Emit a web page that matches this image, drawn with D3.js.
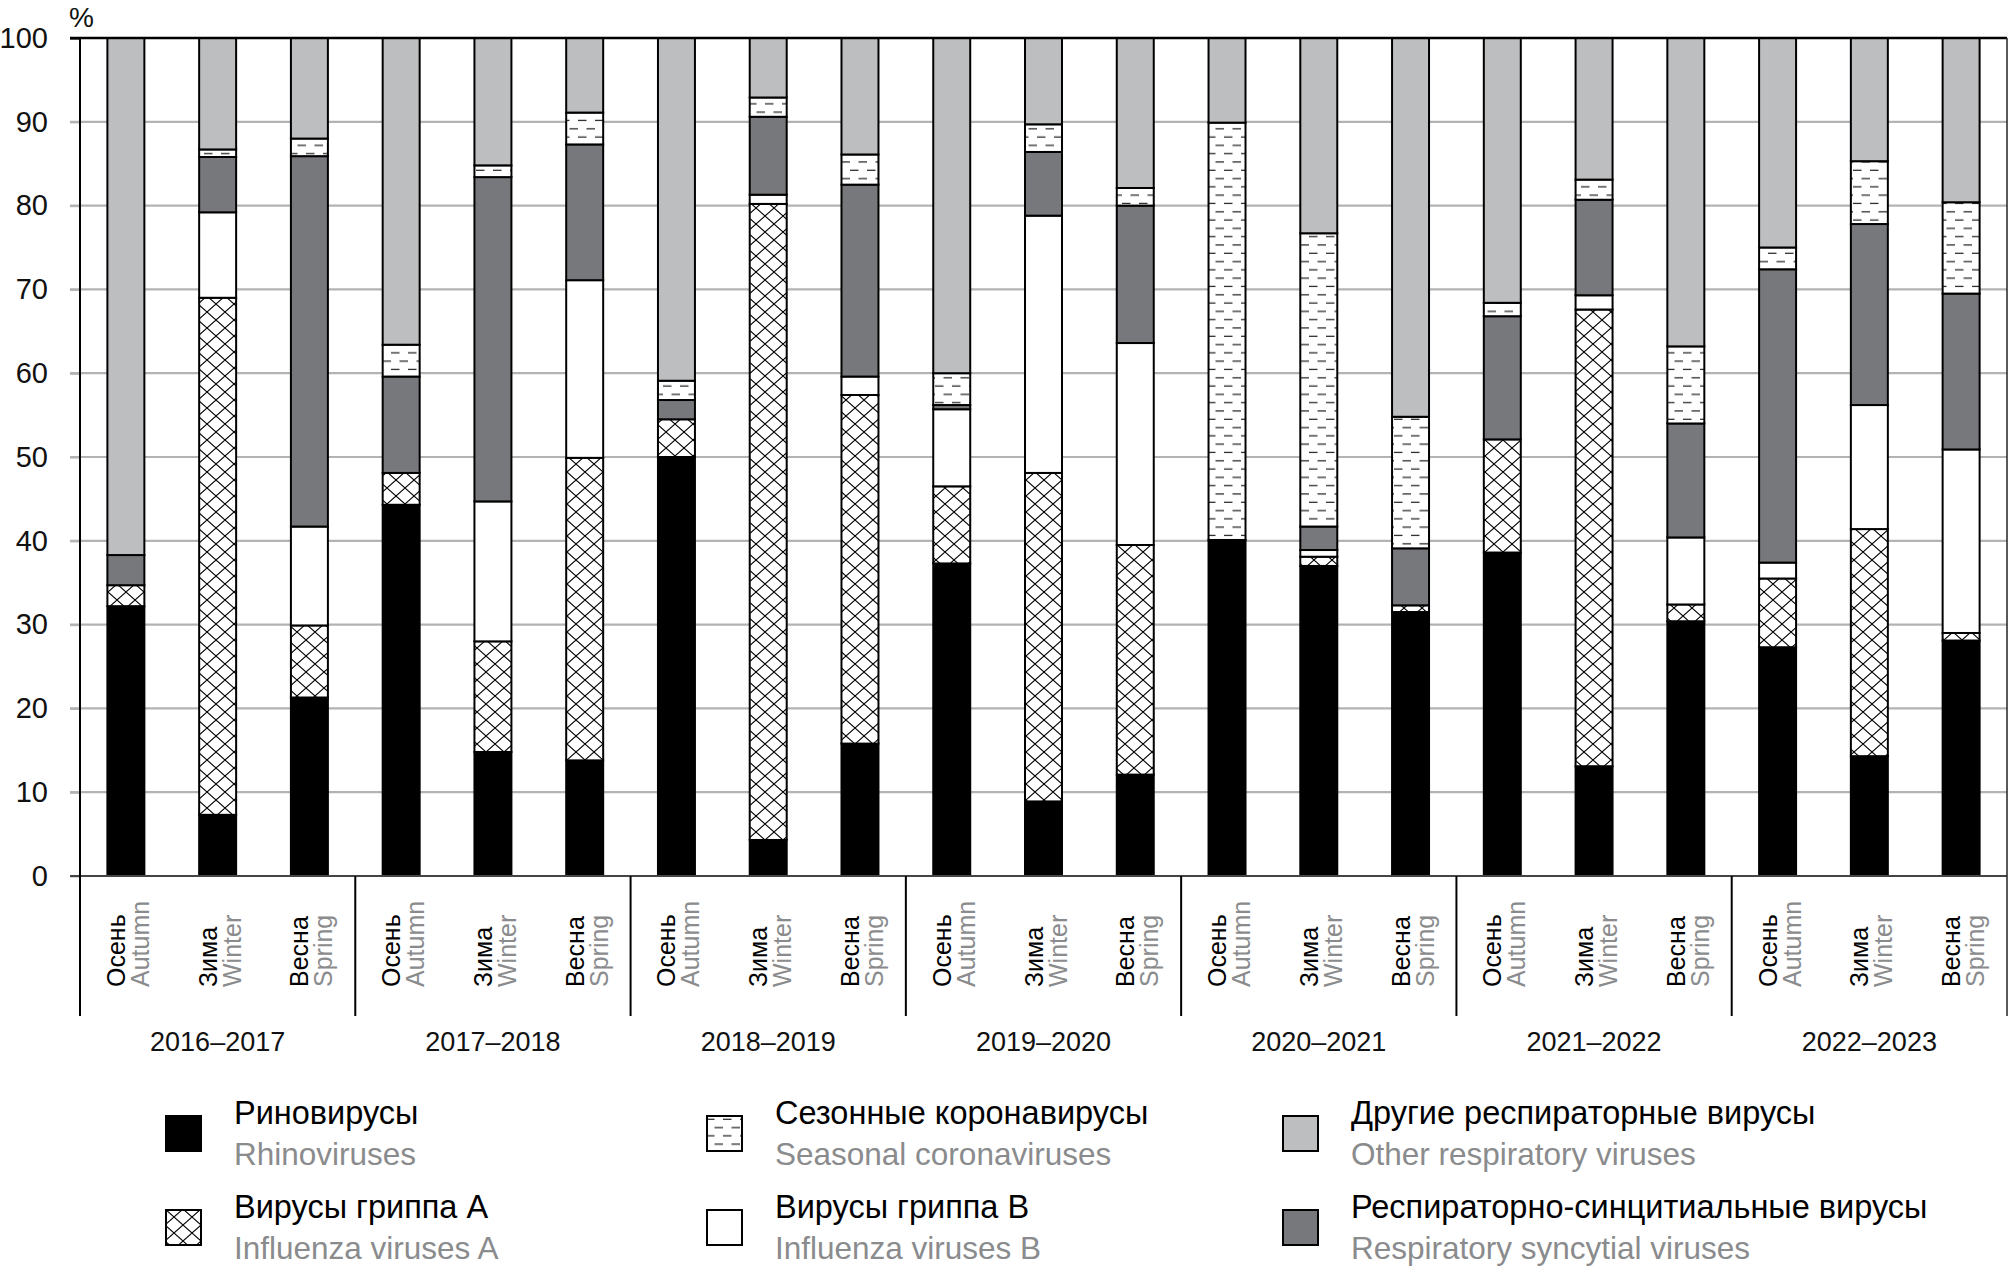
<!DOCTYPE html>
<html>
<head>
<meta charset="utf-8">
<script src="https://cdn.jsdelivr.net/npm/d3@7"></script>
<style>
  body { margin: 0; background: #fff; }
  text { font-family: "Liberation Sans", Arial, sans-serif; }
</style>
</head>
<body>
<div id="chart"></div>
<script>
const years = ["2016–2017", "2017–2018", "2018–2019", "2019–2020", "2020–2021", "2021–2022", "2022–2023"];
const seasonsRu = ["Осень", "Зима", "Весна"];
const seasonsEn = ["Autumn", "Winter", "Spring"];
const yTicks = [0, 10, 20, 30, 40, 50, 60, 70, 80, 90, 100];

// shares, %, by bar (year x season)
const rhino  = [32.2, 7.3, 21.3, 44.3, 14.8, 13.8, 50.0, 4.3, 15.8, 37.3, 8.9, 12.1, 40.1, 37.0, 31.5, 38.6, 13.1, 30.4, 27.3, 14.3, 28.1];
const fluA   = [2.5, 61.7, 8.6, 3.8, 13.2, 36.1, 4.5, 75.9, 41.6, 9.2, 39.2, 27.4, 0, 1.1, 0.8, 13.5, 54.5, 2.0, 8.2, 27.1, 0.9];
const fluB   = [0, 10.2, 11.8, 0, 16.7, 21.2, 0, 1.1, 2.2, 9.2, 30.7, 24.1, 0, 0.8, 0, 0, 1.7, 8.0, 1.9, 14.8, 21.9];
const rsv    = [3.6, 6.6, 44.2, 11.5, 38.7, 16.2, 2.3, 9.3, 22.9, 0.5, 7.6, 16.4, 0, 2.8, 6.8, 14.7, 11.4, 13.6, 35.0, 21.6, 18.6];
const corona = [0, 0.9, 2.1, 3.8, 1.4, 3.8, 2.3, 2.3, 3.6, 3.8, 3.3, 2.1, 49.8, 35.0, 15.7, 1.6, 2.4, 9.2, 2.6, 7.5, 10.9];
const other  = [61.7, 13.3, 12.0, 36.6, 15.2, 8.9, 40.9, 7.1, 13.9, 40.0, 10.3, 17.9, 10.1, 23.3, 45.2, 31.6, 16.9, 36.8, 25.0, 14.7, 19.6];

const keys = ["rhino", "fluA", "fluB", "rsv", "corona", "other"];
const seriesValues = {rhino, fluA, fluB, rsv, corona, other};
const legendRu = {
    rhino: "Риновирусы", fluA: "Вирусы гриппа А", corona: "Сезонные коронавирусы",
    fluB: "Вирусы гриппа В", other: "Другие респираторные вирусы", rsv: "Респираторно-синцитиальные вирусы"
};
const legendEn = {
    rhino: "Rhinoviruses", fluA: "Influenza viruses A", corona: "Seasonal coronaviruses",
    fluB: "Influenza viruses B", other: "Other respiratory viruses", rsv: "Respiratory syncytial viruses"
};
const legendOrder = [["rhino", "fluA"], ["corona", "fluB"], ["other", "rsv"]];

const fills = {
    rhino: "#000", fluA: "url(#hatch)", fluB: "#fff",
    rsv: "#77787b", corona: "url(#dash)", other: "#bdbec0"
};

const W = 2009, H = 1270;
const plotLeft = 80, plotRight = 2007, plotTop = 38, zero = 876, sepBottom = 1016;

const rows = d3.range(years.length * 3).map(function(i) {
    const row = {id: i, year: years[Math.floor(i / 3)], season: i % 3};
    keys.forEach(function(k) { row[k] = seriesValues[k][i]; });
    return row;
});

const stacked = d3.stack().keys(keys)(rows);

const x = d3.scaleBand()
    .domain(rows.map(function(d) { return d.id; }))
    .range([plotLeft, plotRight])
    .paddingInner(0.597)
    .paddingOuter(0.2985);

const xYear = d3.scaleBand()
    .domain(years)
    .range([plotLeft, plotRight]);

const y = d3.scaleLinear()
    .domain([0, 100])
    .range([zero, plotTop]);

const svg = d3.select("#chart").append("svg")
    .attr("width", W)
    .attr("height", H);

const defs = svg.append("defs");

const hatch = defs.append("pattern")
    .attr("id", "hatch")
    .attr("patternUnits", "userSpaceOnUse")
    .attr("width", 18)
    .attr("height", 16);
hatch.append("rect").attr("width", 18).attr("height", 16).attr("fill", "#fff");
hatch.append("path")
    .attr("d", "M0,0L18,16M18,0L0,16M-1,15L1,17M17,-1L19,1")
    .attr("stroke", "#000")
    .attr("stroke-width", 1.1);

const dash = defs.append("pattern")
    .attr("id", "dash")
    .attr("patternUnits", "userSpaceOnUse")
    .attr("width", 17)
    .attr("height", 16.6);
dash.append("rect").attr("width", 17).attr("height", 16.6).attr("fill", "#fff");
dash.append("path")
    .attr("d", "M0,4.2h8.5M8.5,12.5h8.5")
    .attr("stroke", "#222")
    .attr("stroke-width", 1.3);

// grid lines
svg.append("g")
    .selectAll("line")
    .data(yTicks.filter(function(t) { return t > 0 && t < 100; }))
    .join("line")
    .attr("x1", plotLeft - 10)
    .attr("x2", plotRight)
    .attr("y1", function(d) { return y(d); })
    .attr("y2", function(d) { return y(d); })
    .attr("stroke", "#b3b3b3")
    .attr("stroke-width", 2.2);

// bars
svg.append("g")
    .selectAll("g")
    .data(stacked)
    .join("g")
    .attr("fill", function(d) { return fills[d.key]; })
    .selectAll("rect")
    .data(function(d) { return d.filter(function(p) { return p[1] - p[0] > 0; }); })
    .join("rect")
    .attr("x", function(d) { return x(d.data.id); })
    .attr("y", function(d) { return y(d[1]); })
    .attr("width", x.bandwidth())
    .attr("height", function(d) { return y(d[0]) - y(d[1]); })
    .attr("stroke", "#000")
    .attr("stroke-width", 2);

// y axis
svg.append("g")
    .attr("transform", "translate(" + plotLeft + ",0)")
    .call(d3.axisLeft(y)
        .tickValues(yTicks)
        .tickSize(10)
        .tickPadding(22)
        .tickFormat(d3.format("d")))
    .call(function(g) { g.select(".domain").remove(); })
    .call(function(g) {
        g.selectAll(".tick line")
            .attr("stroke", function(d) { return d === 100 ? "#000" : "#b3b3b3"; })
            .attr("stroke-width", 2.2);
        g.selectAll(".tick text")
            .attr("fill", "#111")
            .style("font-size", "29px")
            .style("font-family", "'Liberation Sans', Arial, sans-serif");
    });

// top and zero lines
svg.append("line")
    .attr("x1", plotLeft - 10).attr("x2", plotRight)
    .attr("y1", y(100)).attr("y2", y(100))
    .attr("stroke", "#000").attr("stroke-width", 2.4);
svg.append("line")
    .attr("x1", plotLeft - 10).attr("x2", plotRight)
    .attr("y1", y(0)).attr("y2", y(0))
    .attr("stroke", "#444").attr("stroke-width", 2.2);

// left axis line and right border
svg.append("line")
    .attr("x1", plotLeft).attr("x2", plotLeft)
    .attr("y1", plotTop).attr("y2", sepBottom)
    .attr("stroke", "#000").attr("stroke-width", 2);
svg.append("line")
    .attr("x1", plotRight).attr("x2", plotRight)
    .attr("y1", plotTop).attr("y2", sepBottom)
    .attr("stroke", "#222").attr("stroke-width", 1.5);

// group separators under the axis
svg.append("g")
    .selectAll("line")
    .data(years.slice(1))
    .join("line")
    .attr("x1", function(d) { return xYear(d); })
    .attr("x2", function(d) { return xYear(d); })
    .attr("y1", zero)
    .attr("y2", sepBottom)
    .attr("stroke", "#000")
    .attr("stroke-width", 2);

// "%" label
svg.append("text")
    .attr("x", 69)
    .attr("y", 27)
    .style("font-size", "28px")
    .attr("fill", "#111")
    .text("%");

// season labels
const seasonLabels = svg.append("g")
    .selectAll("g")
    .data(rows)
    .join("g")
    .attr("transform", function(d) {
        return "translate(" + (x(d.id) + x.bandwidth() / 2) + ",987)";
    });

seasonLabels.append("text")
    .attr("transform", "translate(-1,0) rotate(-90)")
    .style("font-size", "25px")
    .attr("fill", "#000")
    .text(function(d) { return seasonsRu[d.season]; });

seasonLabels.append("text")
    .attr("transform", "translate(23,0) rotate(-90)")
    .style("font-size", "25px")
    .attr("fill", "#8a8b8d")
    .text(function(d) { return seasonsEn[d.season]; });

// year labels
svg.append("g")
    .selectAll("text")
    .data(years)
    .join("text")
    .attr("x", function(d) { return xYear(d) + xYear.bandwidth() / 2; })
    .attr("y", 1051)
    .style("text-anchor", "middle")
    .style("font-size", "27px")
    .attr("fill", "#111")
    .text(function(d) { return d; });

// legend
const legendX = [165, 706, 1282];
const legendY = [1115, 1209];

legendOrder.forEach(function(col, ci) {
    col.forEach(function(k, ri) {
        const g = svg.append("g")
            .attr("transform", "translate(" + legendX[ci] + "," + legendY[ri] + ")");
        g.append("rect")
            .attr("x", 1).attr("y", 1)
            .attr("width", 35).attr("height", 35)
            .attr("fill", fills[k])
            .attr("stroke", "#000")
            .attr("stroke-width", 2);
        g.append("text")
            .attr("x", 69)
            .attr("y", 9)
            .style("font-size", "32.5px")
            .attr("fill", "#000")
            .text(legendRu[k]);
        g.append("text")
            .attr("x", 69)
            .attr("y", 50)
            .style("font-size", "31.5px")
            .attr("fill", "#8a8b8d")
            .text(legendEn[k]);
    });
});
</script>
</body>
</html>
